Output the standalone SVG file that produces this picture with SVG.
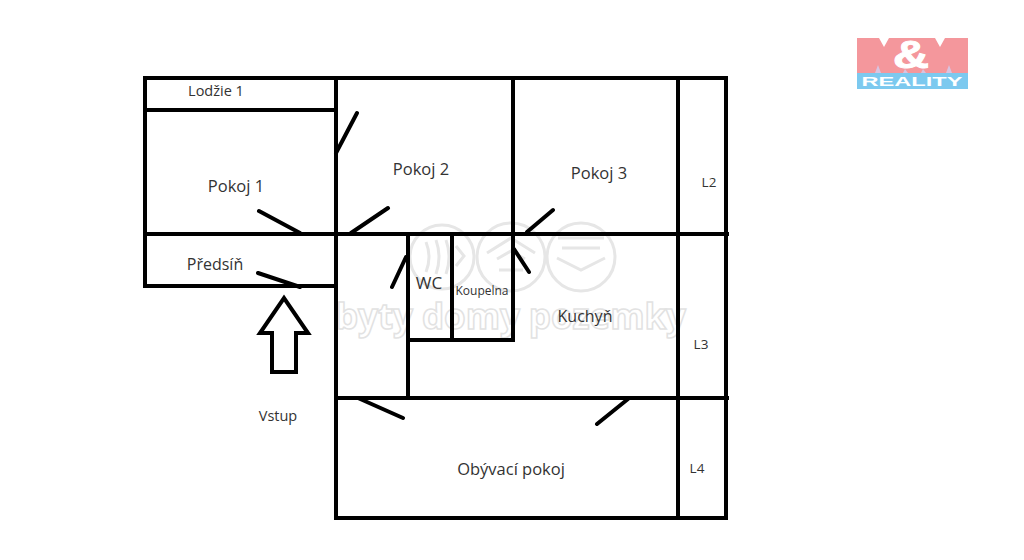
<svg xmlns="http://www.w3.org/2000/svg" width="1024" height="560" viewBox="0 0 1024 560">
<style>
.w{stroke:#000;stroke-width:4;fill:none;stroke-linecap:square}
.d{stroke:#000;stroke-width:4;fill:none;stroke-linecap:round}
text{font-family:"Open Sans","Noto Sans",sans-serif;fill:#333;text-anchor:middle}
.wm{stroke:#e6e6e6;stroke-width:3;fill:none}
.wt{font-size:35px;font-weight:700;fill:#fff;stroke:#e2e2e2;stroke-width:1.5}
</style>
<rect width="1024" height="560" fill="#fff"/>
<g id="watermark">
<circle class="wm" cx="442" cy="257" r="32"/><circle class="wm" cx="511" cy="257" r="34"/><circle class="wm" cx="581" cy="257" r="34"/>
<path class="wm" d="M426 242q6 15 0 30M436 240q6 17 0 34M446 240q6 17 0 34M456 246l8 10-8 10M487 253l24-15 24 15M497 259l14-8 14 8M499 270h24M558 238h46M562 248h38M557 258l24 12 24-12"/>
<text class="wt" x="511" y="329" textLength="350" lengthAdjust="spacing">byty domy pozemky</text>
</g>
<g id="logo">
<rect x="857" y="38" width="111" height="35" fill="#f4979c"/>
<rect x="857" y="73" width="111" height="16" fill="#7cc9ef"/>
<path d="M879 38l5 9 5-9zM935 38l5 9 5-9z" fill="#fff"/>
<path d="M875 73l3-8 3 8zM903 73l2-4 3 4zM921 73l2-4 3 4zM946 73l3-8 3 8z" fill="#d9c3e0"/>
<text x="911" y="68" textLength="36" lengthAdjust="spacingAndGlyphs" stroke="#fff" stroke-width="1" style="font-family:'Liberation Sans',sans-serif;font-size:39px;font-weight:700;fill:#fff">&amp;</text>
<text x="912" y="86" textLength="101" lengthAdjust="spacingAndGlyphs" style="font-family:'Liberation Sans',sans-serif;font-size:13.5px;font-weight:700;fill:#fff">REALITY</text>
</g>
<g id="connectors">
<path class="w" d="M145 78H726V518H336V78M145 78V286H334M145 110H334M145 234H727M678 78V518M513 78V340H408M336 398H727M408 234V398M452 234V340"/>
<path class="d" d="M336 153L357 113M259 211L300 233M388 208L351 233M553 210L527 232M392 287L406 257M529 272L514 249M258 273L300 287M403 418L358 398M628 399L597 424"/>
<path d="M272 372V333H260L284 298L308 333H296V372Z" fill="none" stroke="#000" stroke-width="4"/>
</g>
<g id="lodzie"><text x="216" y="96" font-size="14.5">Lodžie 1</text></g>
<g id="pokoj1"><text x="236" y="192" font-size="16.5">Pokoj 1</text></g>
<g id="pokoj2"><text x="421" y="175" font-size="16.5">Pokoj 2</text></g>
<g id="pokoj3"><text x="599" y="179" font-size="16.5">Pokoj 3</text></g>
<g id="predsin"><text x="215" y="270" font-size="16">Předsíň</text></g>
<g id="wc"><text x="429" y="289" font-size="17">WC</text></g>
<g id="koupelna"><text x="482" y="295" font-size="12">Koupelna</text></g>
<g id="kuchyn"><text x="585" y="322" font-size="16">Kuchyň</text></g>
<g id="l2"><text x="709" y="187" font-size="13.5">L2</text></g>
<g id="l3"><text x="701" y="349" font-size="13.5">L3</text></g>
<g id="l4"><text x="697" y="473" font-size="13.5">L4</text></g>
<g id="vstup"><text x="278" y="421" font-size="14.5">Vstup</text></g>
<g id="obyvaci"><text x="511" y="475" font-size="16.5">Obývací pokoj</text></g>
</svg>
